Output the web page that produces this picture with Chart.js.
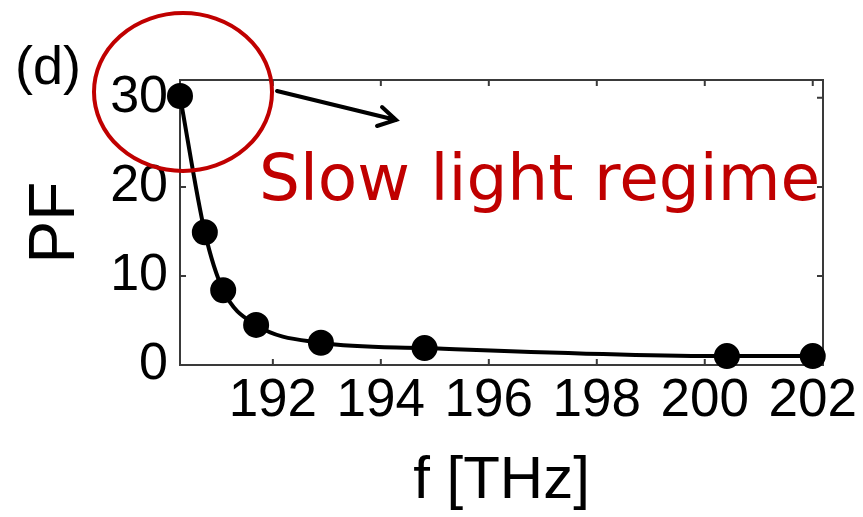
<!DOCTYPE html>
<html lang="en">
<head>
  <meta charset="UTF-8" />
  <title>PF vs f</title>
  <script src="https://cdn.jsdelivr.net/npm/chart.js"></script>
  <style>
    html, body { margin: 0; padding: 0; background: #fff; }
    #wrap { width: 863px; height: 517px; }
  </style>
</head>
<body>
<div id="wrap"><canvas id="pfChart" width="863" height="517"></canvas></div>
<script>
  // values
  const freqs = [190.28, 190.74, 191.08, 191.69, 192.89, 194.81, 200.41, 202.0];
  const pf = [30.2, 14.9, 8.4, 4.5, 2.5, 1.9, 1.0, 1.0];
  const xTicks = [192, 194, 196, 198, 200, 202];
  const yTicks = [0, 10, 20, 30];

  const RED = "#c00000";
  const AXIS = "#3a3a3a";
  const FONT = "'Liberation Sans', Arial, sans-serif";

  // MATLAB-ish box with inward ticks on all four sides
  const boxPlugin = {
    id: "box",
    beforeDatasetsDraw(chart) {
      const { ctx, chartArea: a, scales } = chart;
      ctx.save();
      ctx.strokeStyle = AXIS;
      ctx.lineWidth = 2;
      ctx.strokeRect(a.left, a.top, a.right - a.left, a.bottom - a.top);
      const len = 6;
      ctx.beginPath();
      xTicks.forEach((v) => {
        const px = scales.x.getPixelForValue(v);
        ctx.moveTo(px, a.bottom); ctx.lineTo(px, a.bottom - len);
        ctx.moveTo(px, a.top); ctx.lineTo(px, a.top + len);
      });
      yTicks.forEach((v) => {
        const py = scales.y.getPixelForValue(v);
        ctx.moveTo(a.left, py); ctx.lineTo(a.left + len, py);
        ctx.moveTo(a.right, py); ctx.lineTo(a.right - len, py);
      });
      ctx.stroke();
      ctx.restore();
    },
    afterDraw(chart) {
      const { ctx } = chart;
      ctx.save();
      // panel label
      ctx.fillStyle = "#000";
      ctx.font = "54px " + FONT;
      ctx.textBaseline = "alphabetic";
      ctx.fillText("(d)", 15, 84);

      // red circle round the first point
      ctx.strokeStyle = RED;
      ctx.lineWidth = 4;
      ctx.beginPath();
      ctx.ellipse(183, 92, 89, 79, 0, 0, Math.PI * 2);
      ctx.stroke();

      // arrow
      ctx.strokeStyle = "#000";
      ctx.lineWidth = 4;
      ctx.lineCap = "round";
      ctx.beginPath();
      ctx.moveTo(277, 91);
      ctx.lineTo(396, 120);
      ctx.moveTo(382, 107);
      ctx.lineTo(396, 120);
      ctx.lineTo(377, 126);
      ctx.stroke();

      // annotation text
      ctx.fillStyle = RED;
      ctx.font = "64.5px 'DejaVu Sans', Verdana, sans-serif";
      ctx.fillText("Slow light regime", 259, 200);
      ctx.restore();
    }
  };

  const ctx = document.getElementById("pfChart").getContext("2d");
  new Chart(ctx, {
    type: "line",
    data: {
      datasets: [
        {
          data: freqs.map((f, i) => ({ x: f, y: pf[i] })),
          borderColor: "#000",
          backgroundColor: "#000",
          borderWidth: 4,
          pointRadius: 11,
          pointHoverRadius: 11,
          cubicInterpolationMode: "monotone",
          clip: false,
        },
      ],
    },
    options: {
      responsive: false,
      animation: false,
      events: [],
      layout: { padding: { top: 80, right: 40, left: 0, bottom: 0 } },
      plugins: { legend: { display: false }, tooltip: { enabled: false } },
      scales: {
        x: {
          type: "linear",
          min: 190.28,
          max: 202.19,
          grid: { display: false, drawTicks: false },
          border: { display: false },
          afterBuildTicks(scale) { scale.ticks = xTicks.map((v) => ({ value: v })); },
          afterFit(scale) { scale.height = 152; },
          ticks: {
            color: "#000",
            padding: 5,
            maxRotation: 0,
            autoSkip: false,
            font: { family: FONT, size: 53 },
          },
          title: {
            display: true,
            text: "f [THz]",
            color: "#000",
            padding: { top: 0, bottom: 0 },
            font: { family: FONT, size: 60 },
          },
        },
        y: {
          min: 0,
          max: 32,
          grid: { display: false, drawTicks: false },
          border: { display: false },
          afterBuildTicks(scale) { scale.ticks = yTicks.map((v) => ({ value: v })); },
          afterFit(scale) { scale.width = 180; },
          ticks: {
            color: "#000",
            padding: 12,
            autoSkip: false,
            font: { family: FONT, size: 52 },
          },
          title: {
            display: true,
            text: "PF",
            color: "#000",
            padding: { top: 18, bottom: 0 },
            font: { family: FONT, size: 64 },
          },
        },
      },
    },
    plugins: [boxPlugin],
  });
</script>
</body>
</html>
